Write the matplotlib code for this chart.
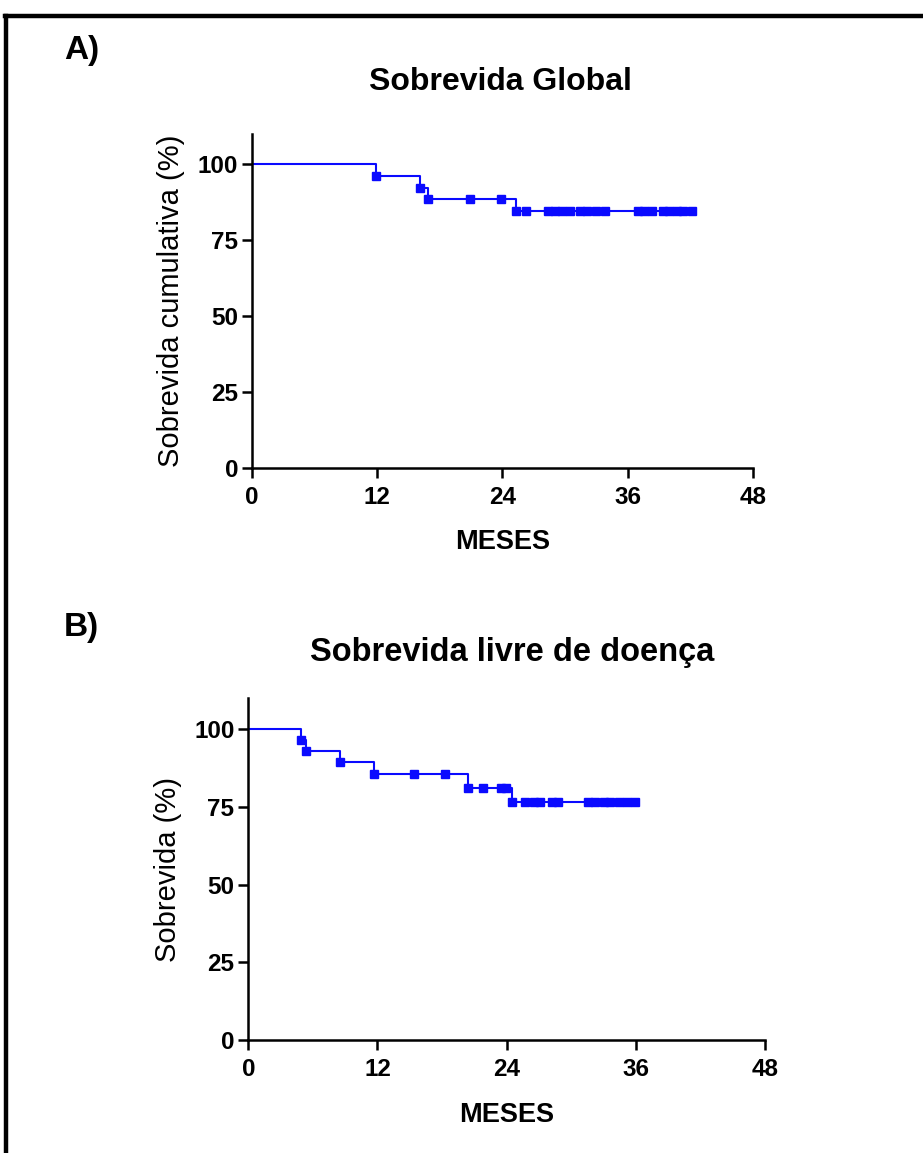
import numpy as np
import matplotlib.pyplot as plt
from matplotlib.lines import Line2D

plt.rcParams['font.family'] = ['Liberation Sans', 'DejaVu Sans']

# Overall survival (Kaplan-Meier), months vs %
os_times = [0, 11.9, 16.1, 16.9, 25.3, 42.2]
os_surv = [100, 96.2, 92.4, 88.5, 84.6, 84.6]
os_censor = [11.9, 16.1, 16.9, 20.9, 23.9, 25.3, 26.3, 28.4, 29.0, 29.7, 30.5,
             31.4, 32.1, 33.0, 33.8, 37.0, 37.6, 38.3, 39.4, 40.0, 40.7, 41.3, 42.2]

# Disease-free survival
dfs_times = [0, 4.9, 5.4, 8.5, 11.7, 20.4, 24.5, 35.9]
dfs_surv = [100, 96.4, 92.9, 89.3, 85.5, 81.0, 76.4, 76.4]
dfs_censor = [4.9, 5.4, 8.5, 11.7, 15.4, 18.3, 20.4, 21.8, 23.5, 23.9, 24.5, 25.7,
              26.5, 27.1, 28.2, 28.8, 31.6, 32.2, 33.0, 33.6, 34.4, 35.2, 35.9]

xticks = [0, 12, 24, 36, 48]
yticks = [0, 25, 50, 75, 100]
blue = '#0a0aff'


def step_value(times, surv, t):
    idx = np.searchsorted(times, t, side='right') - 1
    return surv[idx]


def km_panel(ax, times, surv, censor, ylabel, ylab_x):
    ax.step(times, surv, where='post', color=blue, lw=1.5)
    cy = [step_value(times, surv, t) for t in censor]
    ax.plot(censor, cy, ls='none', marker='s', ms=5.5, color=blue)
    ax.set_xlim(0, 48)
    ax.set_ylim(0, 110)
    ax.set_xticks(xticks)
    ax.set_yticks(yticks)
    for s in ['top', 'right']:
        ax.spines[s].set_visible(False)
    for s in ['left', 'bottom']:
        ax.spines[s].set_linewidth(1.8)
    ax.tick_params(direction='out', length=7, width=1.8, labelsize=17.5)
    ax.tick_params(axis='y', pad=3)
    ax.tick_params(axis='x', pad=6)
    for lab in ax.get_xticklabels() + ax.get_yticklabels():
        lab.set_fontweight('bold')
    ax.set_xlabel('MESES', fontsize=19.5, fontweight='bold')
    ax.xaxis.set_label_coords(0.5, -0.18)
    ax.set_ylabel(ylabel, fontsize=21)
    ax.yaxis.set_label_coords(ylab_x, 0.5)


fig = plt.figure(figsize=(9.23, 11.53), dpi=100)

ax1 = fig.add_axes([0.2730, 0.5938, 0.5428, 0.2899])
km_panel(ax1, os_times, os_surv, os_censor, 'Sobrevida cumulativa (%)', -0.134)

ax2 = fig.add_axes([0.2690, 0.0980, 0.5598, 0.2966])
km_panel(ax2, dfs_times, dfs_surv, dfs_censor, 'Sobrevida (%)', -0.128)

fig.text(500 / 923, 1 - 82 / 1153, 'Sobrevida Global', fontsize=23,
         fontweight='bold', ha='center', va='center')
fig.text(512 / 923, 1 - 653 / 1153, 'Sobrevida livre de doença', fontsize=23.5,
         fontweight='bold', ha='center', va='center')

fig.text(64 / 923, 1 - 50 / 1153, 'A)', fontsize=24, fontweight='bold', va='center')
fig.text(64 / 923, 1 - 628 / 1153, 'B)', fontsize=24, fontweight='bold', va='center')

# outer frame (top and left edges)
top_y = 1 - 15.5 / 1153
fig.add_artist(Line2D([5 / 923, 1.0], [top_y, top_y], color='black', lw=3.2))
fig.add_artist(Line2D([6 / 923, 6 / 923], [0, top_y], color='black', lw=3.2))

fig.savefig('out.png', dpi=100)
